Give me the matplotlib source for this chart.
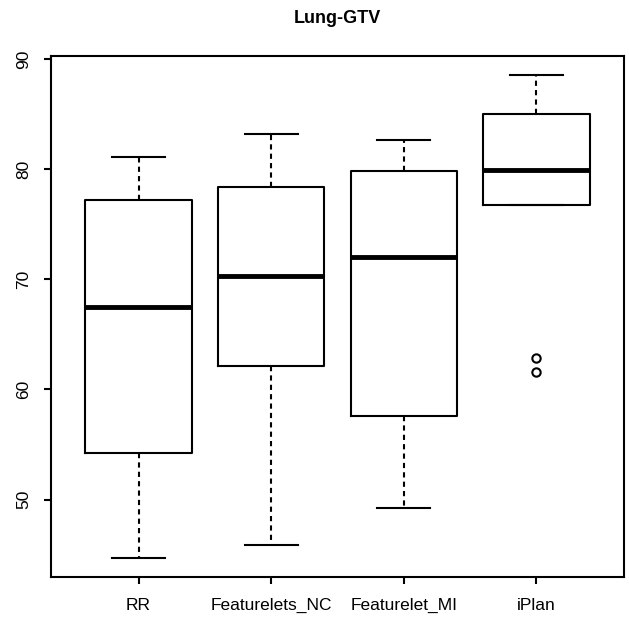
import matplotlib
matplotlib.use("Agg")
import matplotlib.pyplot as plt

plt.rcParams['font.family'] = ['Liberation Sans', 'DejaVu Sans']

categories = ["RR", "Featurelets_NC", "Featurelet_MI", "iPlan"]
whislo = [44.7, 45.85, 49.25, 76.75]
q1 = [54.25, 62.1, 57.6, 76.75]
med = [67.45, 70.35, 72.0, 79.95]
q3 = [77.25, 78.4, 79.85, 85.0]
whishi = [81.15, 83.25, 82.65, 88.55]
outliers = [[], [], [], [62.9, 61.55]]

stats = []
for i, name in enumerate(categories):
    stats.append(dict(label=name, whislo=whislo[i], q1=q1[i], med=med[i],
                      q3=q3[i], whishi=whishi[i], fliers=outliers[i]))

fig = plt.figure(figsize=(6.29, 6.22), dpi=100)
ax = fig.add_axes([51/629, 45/622, 573/629, 521/622])

lw = 1.5
ax.bxp(stats, positions=range(1, 5), widths=0.8, capwidths=0.4,
       boxprops=dict(color="black", linewidth=lw),
       medianprops=dict(color="black", linewidth=3.5, solid_capstyle="butt"),
       whiskerprops=dict(color="black", linewidth=lw, linestyle=(0, (2.5, 2))),
       capprops=dict(color="black", linewidth=lw),
       flierprops=dict(marker="o", markerfacecolor="none", markeredgecolor="black",
                       markersize=6, markeredgewidth=1.5))

# R-style 4% padding on both axes
ax.set_xlim(0.34, 4.66)
ax.set_ylim(42.96, 90.3)
ax.set_yticks([50, 60, 70, 80, 90])
ax.set_yticklabels(["50", "60", "70", "80", "90"], rotation=90, va="center")
ax.set_xticks(range(1, 5))
ax.set_xticklabels(categories)

ax.tick_params(axis="both", direction="out", length=5, width=lw, labelsize=12.5)
ax.tick_params(axis="x", pad=10)
ax.tick_params(axis="y", pad=9)
for s in ax.spines.values():
    s.set_linewidth(lw)

ax.set_title("Lung-GTV", fontsize=13, fontweight="bold", pad=24)

fig.savefig("out.png", dpi=100)
